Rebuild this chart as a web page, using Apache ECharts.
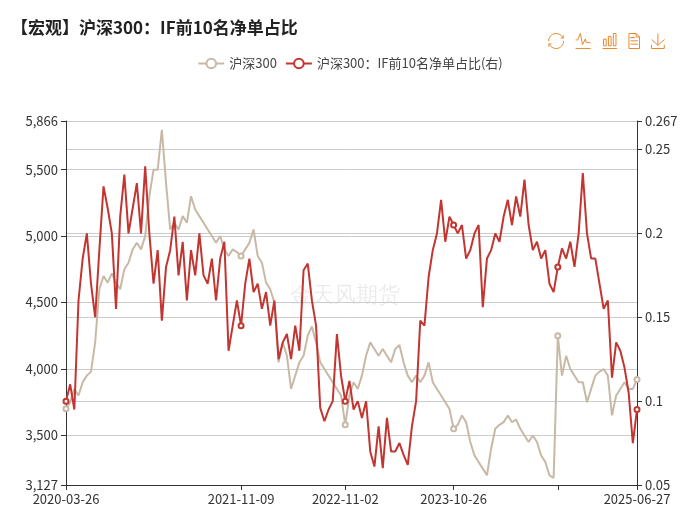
<!DOCTYPE html>
<html lang="zh">
<head>
  <meta charset="UTF-8" />
  <title>沪深300：IF前10名净单占比</title>
  <script src="https://cdn.jsdelivr.net/npm/echarts@6.0.0/dist/echarts.min.js"></script>
  <style>
    body { margin: 0; background: #fff; overflow: hidden; }
    #main { width: 700px; height: 512px; }
  </style>
</head>
<body>
  <div id="main"></div>
  <script>
    // 双周采样，起止 2020-03-26 ~ 2025-06-27
    const startDate = '2020-03-26';
    const endDate = '2025-06-27';
    const tickDates = ['2020-03-26', '2021-11-09', '2022-11-02', '2023-10-26', '2024-10-18', '2025-06-27'];
    const tickIndex = [0, 42, 67, 93, 118, 137];
    const hiddenTickLabels = ['2024-10-18'];

    const hs300 = [
      3700, 3750, 3850, 3800, 3900, 3950, 3980, 4200, 4600, 4700,
      4650, 4720, 4650, 4600, 4750, 4800, 4900, 4950, 4900, 5000,
      5300, 5500, 5500, 5800, 5400, 5050, 5100, 5050, 5150, 5100,
      5300, 5200, 5150, 5100, 5050, 5000, 4950, 5000, 4900, 4850,
      4900, 4880, 4850, 4900, 4950, 5050, 4850, 4800, 4650, 4600,
      4500, 4050, 4200, 4100, 3850, 3950, 4050, 4100, 4250, 4320,
      4200, 4050, 4000, 3950, 3900, 3850, 3800, 3580, 3800, 3900,
      3850, 3950, 4100, 4200, 4150, 4100, 4150, 4100, 4050, 4150,
      4180, 4050, 3950, 3900, 3950, 3900, 3950, 4050, 3900, 3850,
      3800, 3750, 3700, 3550, 3580, 3650, 3600, 3450, 3350, 3300,
      3250, 3200, 3400, 3550, 3580, 3600, 3650, 3600, 3620, 3550,
      3500, 3450, 3500, 3450, 3350, 3300, 3200, 3180, 4250, 3950,
      4100, 4000, 3950, 3900, 3900, 3750, 3850, 3950, 3980, 4000,
      3950, 3650, 3800, 3850, 3900, 3850, 3850, 3920
    ];

    const netRatio = [
      0.100, 0.110, 0.095, 0.160, 0.185, 0.200, 0.170, 0.150, 0.190, 0.228,
      0.215, 0.200, 0.155, 0.210, 0.235, 0.200, 0.215, 0.230, 0.200, 0.240,
      0.200, 0.170, 0.190, 0.148, 0.180, 0.190, 0.210, 0.175, 0.195, 0.160,
      0.190, 0.175, 0.200, 0.175, 0.170, 0.185, 0.160, 0.185, 0.195, 0.130,
      0.145, 0.160, 0.145, 0.170, 0.185, 0.165, 0.170, 0.155, 0.165, 0.145,
      0.160, 0.125, 0.135, 0.140, 0.125, 0.145, 0.130, 0.178, 0.182, 0.160,
      0.145, 0.096, 0.088, 0.095, 0.100, 0.140, 0.115, 0.100, 0.112, 0.095,
      0.100, 0.090, 0.100, 0.070, 0.061, 0.085, 0.060, 0.090, 0.070, 0.070,
      0.075, 0.068, 0.062, 0.085, 0.100, 0.148, 0.145, 0.174, 0.190, 0.200,
      0.220, 0.195, 0.210, 0.205, 0.200, 0.205, 0.185, 0.190, 0.200, 0.205,
      0.156, 0.185, 0.190, 0.200, 0.195, 0.210, 0.220, 0.205, 0.222, 0.210,
      0.232, 0.205, 0.190, 0.195, 0.185, 0.190, 0.170, 0.165, 0.180, 0.191,
      0.185, 0.195, 0.180, 0.200, 0.236, 0.200, 0.185, 0.185, 0.170, 0.155,
      0.160, 0.114, 0.135, 0.130, 0.120, 0.105, 0.075, 0.095
    ];

    // 类目：双周日期，刻度位置用 tickDates 的原文
    const dates = [];
    const d0 = new Date(startDate + 'T00:00:00Z');
    for (let i = 0; i < hs300.length; i++) {
      const d = new Date(d0.getTime() + i * 14 * 86400000);
      dates.push(d.toISOString().slice(0, 10));
    }
    tickIndex.forEach((idx, k) => { dates[idx] = tickDates[k]; });
    dates[dates.length - 1] = endDate;

    const chart = echarts.init(document.getElementById('main'));
    const showTick = idx => tickIndex.indexOf(idx) >= 0;

    const option = {
      animation: false,
      backgroundColor: '#fff',
      textStyle: { fontFamily: '"Noto Sans CJK SC", "Noto Sans", sans-serif' },
      title: {
        text: '【宏观】沪深300：IF前10名净单占比',
        left: 6,
        top: 14,
        textStyle: { fontSize: 17, fontWeight: 'bold', color: '#222' }
      },
      toolbox: {
        right: 18,
        top: 16,
        itemSize: 15,
        itemGap: 7,
        iconStyle: { borderColor: '#e8892d' },
        feature: {
          restore: {},
          magicType: { type: ['line', 'bar'] },
          dataView: {},
          saveAsImage: {}
        }
      },
      legend: {
        top: 52,
        left: 'center',
        itemWidth: 26,
        itemHeight: 12,
        textStyle: { fontSize: 13, color: '#444' },
        data: ['沪深300', '沪深300：IF前10名净单占比(右)']
      },
      graphic: [{
        type: 'text',
        left: 290,
        top: 285,
        style: { text: '金天风期货', fontSize: 22, fill: 'rgba(0,0,0,0.08)' }
      }],
      grid: { left: 66, right: 63, top: 121, bottom: 27 },
      xAxis: {
        type: 'category',
        data: dates,
        boundaryGap: false,
        axisLine: { lineStyle: { color: '#333' } },
        axisTick: { interval: showTick, lineStyle: { color: '#333' } },
        axisLabel: {
          interval: showTick,
          color: '#333',
          fontSize: 13,
          formatter: v => (hiddenTickLabels.indexOf(v) >= 0 ? '' : v)
        }
      },
      yAxis: [
        {
          type: 'value',
          min: 3127,
          max: 5866,
          axisLine: { show: true, lineStyle: { color: '#333' } },
          axisTick: { show: true },
          axisLabel: { color: '#333', fontSize: 13 },
          splitLine: { lineStyle: { color: '#ccc' } }
        },
        {
          type: 'value',
          min: 0.05,
          max: 0.267,
          axisLine: { show: true, lineStyle: { color: '#333' } },
          axisTick: { show: true },
          axisLabel: { color: '#333', fontSize: 13 },
          splitLine: { lineStyle: { color: '#ccc' } }
        }
      ],
      series: [
        {
          name: '沪深300',
          type: 'line',
          data: hs300,
          yAxisIndex: 0,
          symbol: 'emptyCircle',
          symbolSize: 5,
          color: '#c8b9a6',
          lineStyle: { width: 2, color: '#c8b9a6' }
        },
        {
          name: '沪深300：IF前10名净单占比(右)',
          type: 'line',
          data: netRatio,
          yAxisIndex: 1,
          symbol: 'emptyCircle',
          symbolSize: 5,
          color: '#c23531',
          lineStyle: { width: 2, color: '#c23531' }
        }
      ]
    };

    chart.setOption(option);
  </script>
</body>
</html>
